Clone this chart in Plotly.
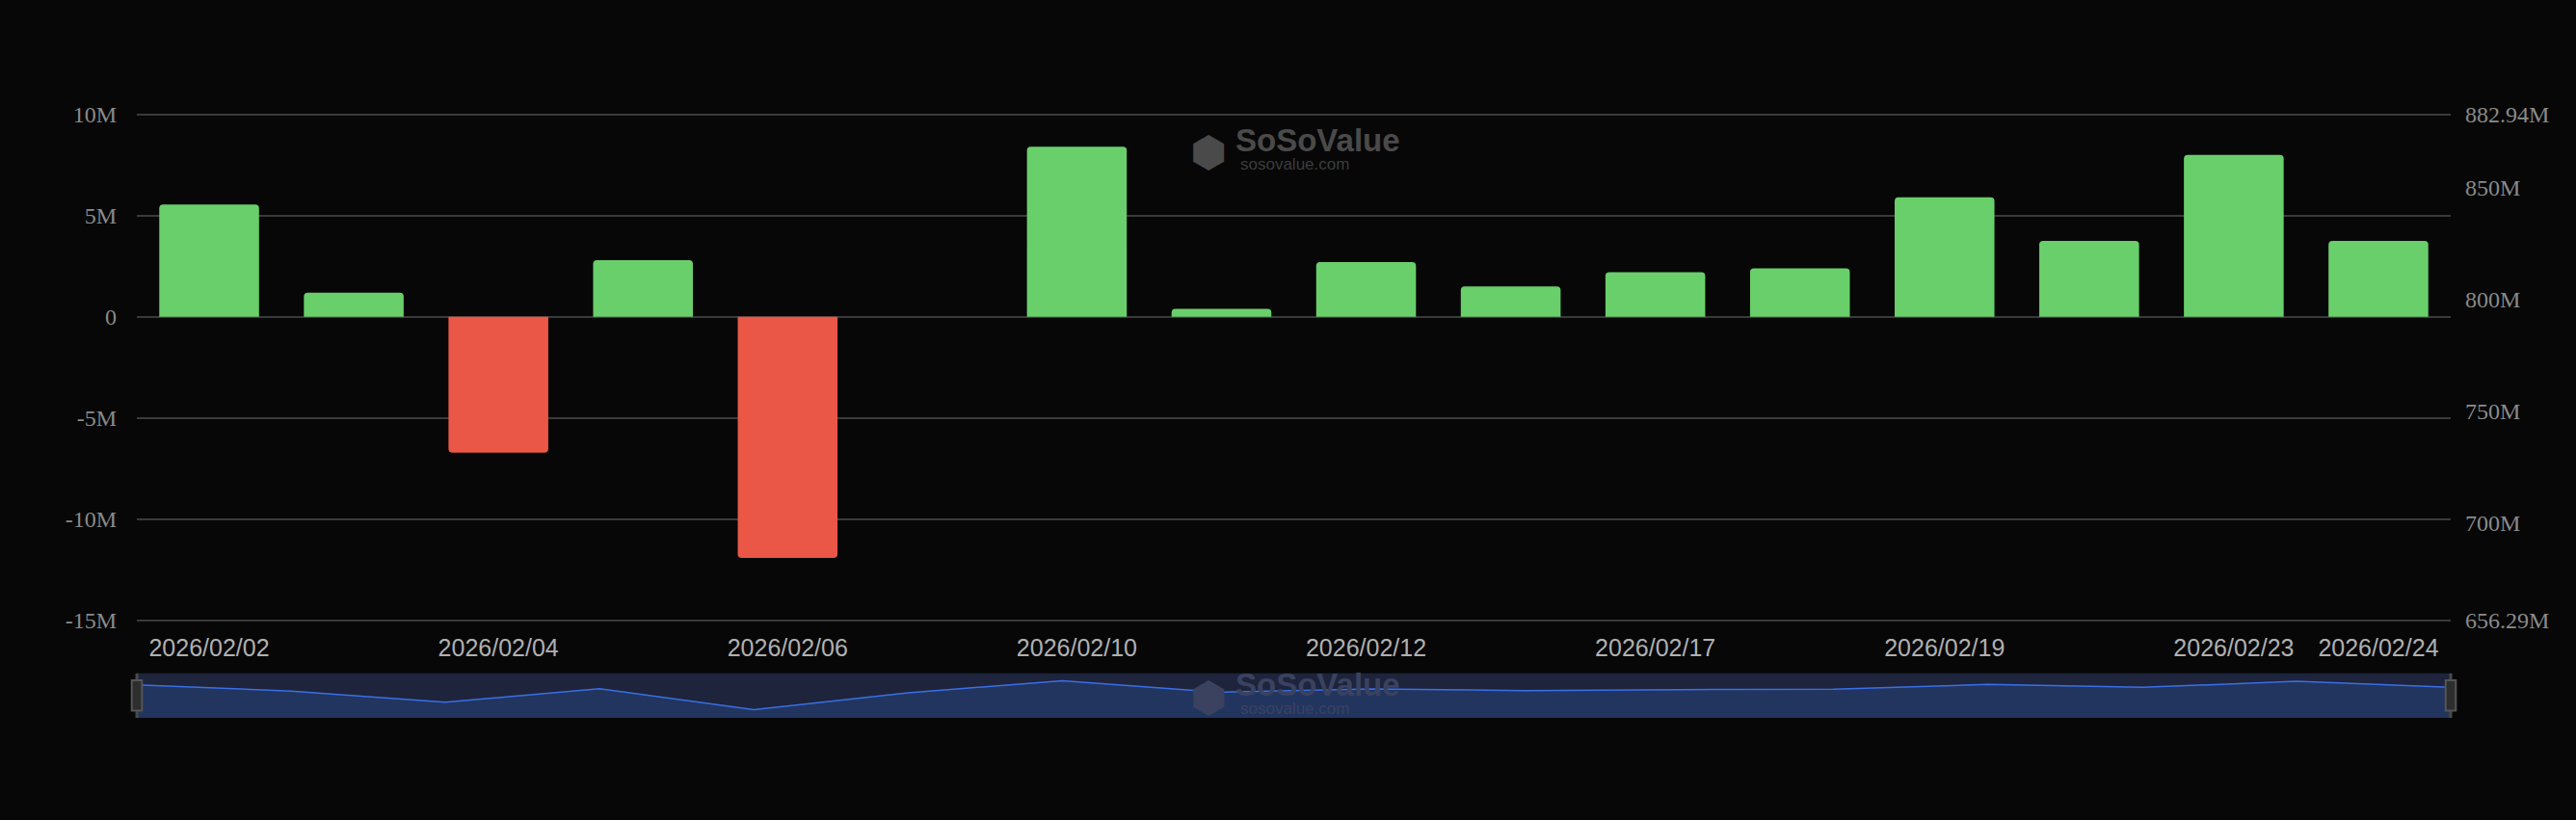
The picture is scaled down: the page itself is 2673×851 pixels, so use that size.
import plotly.graph_objects as go

dates = ["2026/02/02","2026/02/03","2026/02/04","2026/02/05","2026/02/06","2026/02/09",
         "2026/02/10","2026/02/11","2026/02/12","2026/02/13","2026/02/17","2026/02/18",
         "2026/02/19","2026/02/20","2026/02/23","2026/02/24"]
net_inflow = [5.55e6, 1.2e6, -6.7e6, 2.8e6, -11.9e6, 0.0,
              8.4e6, 0.4e6, 2.7e6, 1.5e6, 2.2e6, 2.4e6,
              5.9e6, 3.75e6, 8.0e6, 3.75e6]
left_ticks = [-15e6, -10e6, -5e6, 0, 5e6, 10e6]
left_tick_text = ["-15M", "-10M", "-5M", "0", "5M", "10M"]
right_ticks = [656.29, 700, 750, 800, 850, 882.94]
right_tick_text = ["656.29M", "700M", "750M", "800M", "850M", "882.94M"]
shown_dates = ["2026/02/02","2026/02/04","2026/02/06","2026/02/10","2026/02/12",
               "2026/02/17","2026/02/19","2026/02/23","2026/02/24"]

GREEN, RED = "#69cf6a", "#eb5746"
colors = [GREEN if v >= 0 else RED for v in net_inflow]
idx = list(range(len(dates)))

fig = go.Figure()
fig.add_trace(go.Bar(x=idx, y=net_inflow, marker=dict(color=colors, line_width=0, cornerradius=4),
                     xaxis="x", yaxis="y", showlegend=False))
fig.add_trace(go.Scatter(x=idx, y=[None]*len(idx), xaxis="x", yaxis="y2", showlegend=False))

slider_min = -17.7e6
fig.add_trace(go.Scatter(x=idx, y=[slider_min]*len(idx), mode="lines", line=dict(width=0),
                         xaxis="x2", yaxis="y3", showlegend=False, hoverinfo="skip"))
fig.add_trace(go.Scatter(x=idx, y=net_inflow, mode="lines", line=dict(color="#3a6fe6", width=1.5),
                         fill="tonexty", fillcolor="#22355f", xaxis="x2", yaxis="y3", showlegend=False))

label_font = dict(family="Liberation Serif", size=24, color="#8a8a8a")
fig.update_layout(
    width=2673, height=851, paper_bgcolor="#070707", plot_bgcolor="#070707",
    margin=dict(l=142, r=130, t=117, b=106), bargap=0.31,
    xaxis=dict(domain=[0, 1], range=[-0.5, len(dates) - 0.5], tickvals=[dates.index(d) for d in shown_dates],
               ticktext=shown_dates, tickfont=dict(family="Liberation Sans", size=25, color="#b0b0b0"),
               showgrid=False, zeroline=False, showline=False, ticks="", ticklabelstandoff=9, anchor="y"),
    yaxis=dict(domain=[0.158, 1], range=[-15.08e6, 10.08e6], tickvals=left_ticks, ticktext=left_tick_text,
               tickfont=label_font, gridcolor="#3a3a3a", gridwidth=1.5, zeroline=False, showline=False,
               ticklabelstandoff=20),
    yaxis2=dict(overlaying="y", side="right", range=[655.56, 883.67], tickvals=right_ticks,
                ticktext=right_tick_text, tickfont=label_font, showgrid=False, zeroline=False,
                anchor="x", ticklabelstandoff=14),
    xaxis2=dict(domain=[0, 1], range=[0, len(dates) - 1], visible=False, anchor="y3"),
    yaxis3=dict(domain=[0, 0.0735], range=[slider_min, 13.6e6], visible=False),
)
fig.add_shape(type="rect", xref="paper", yref="paper", x0=0, x1=1, y0=0, y1=0.0735,
              fillcolor="#1d243c", line_width=0, layer="below")
for xp in (0, 1):
    fig.add_shape(type="line", xref="paper", yref="paper", x0=xp, x1=xp, y0=0, y1=0.0735,
                  line=dict(color="#4a4a4a", width=3))
    fig.add_shape(type="rect", xref="paper", yref="paper", x0=xp - 0.0022, x1=xp + 0.0022,
                  y0=0.012, y1=0.062, fillcolor="#2e2e2e", line=dict(color="#555555", width=2))
for ytxt, ysub, c1, c2 in ((0.955, 0.915, "#4a4a4a", "#3c3c3c"), (0.055, 0.015, "#3a4260", "#3a4260")):
    fig.add_annotation(xref="paper", yref="paper", x=0.474, y=ytxt, xanchor="left", yanchor="middle",
                       text="<b>SoSoValue</b>", showarrow=False,
                       font=dict(family="Liberation Sans", size=33, color=c1))
    fig.add_annotation(xref="paper", yref="paper", x=0.476, y=ysub, xanchor="left", yanchor="middle",
                       text="sosovalue.com", showarrow=False,
                       font=dict(family="Liberation Sans", size=17, color=c2))
    fig.add_annotation(xref="paper", yref="paper", x=0.463, y=(ytxt + ysub) / 2, xanchor="center",
                       yanchor="middle", text="⬢", showarrow=False,
                       font=dict(family="DejaVu Sans", size=44, color=c1))
fig.write_html("out.html", config={"displayModeBar": False})

with open("out.html", "r", encoding="utf-8") as f:
    html = f.read()
html = html.replace("<head>", "<head><style>html,body{margin:0;padding:0;background:#070707;overflow:hidden}</style>", 1)
with open("out.html", "w", encoding="utf-8") as f:
    f.write(html)
